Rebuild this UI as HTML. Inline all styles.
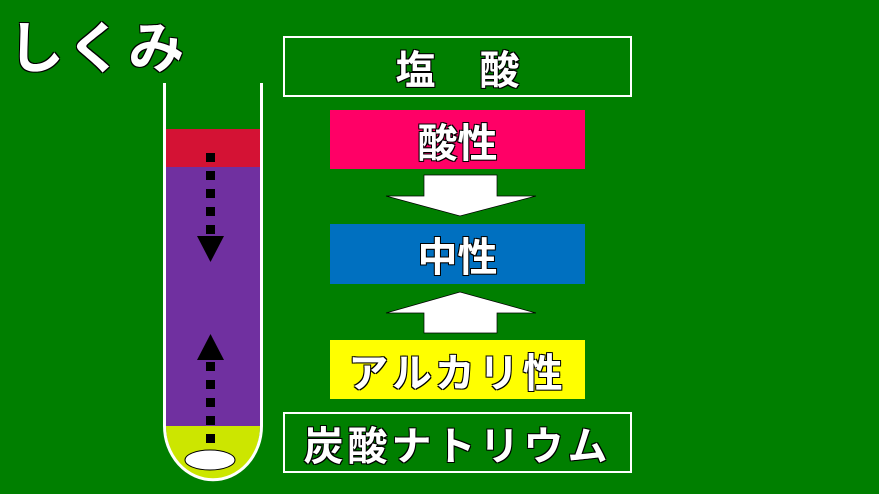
<!DOCTYPE html><html><head><style>
body{margin:0;width:879px;height:494px;background:#007f00;position:relative;overflow:hidden;font-family:"Liberation Sans","Noto Sans CJK JP",sans-serif;font-weight:bold}
.a{position:absolute;display:flex;align-items:center;justify-content:center;color:#fff;font-size:40px;text-shadow:-1px -1px 0 #000,1px -1px 0 #000,-1px 1px 0 #000,1px 1px 0 #000}
</style></head><body>
<div class="a" style="left:8px;top:4px;font-size:56px;letter-spacing:3px;">しくみ</div>
<div class="a" style="left:283px;top:36px;width:345px;height:57px;border:2px solid #fff;letter-spacing:44px;padding-left:44px;box-sizing:content-box;width:301px;">塩酸</div>
<div class="a" style="left:330px;top:110px;width:255px;height:59px;background:#ff0066;">酸性</div>
<div class="a" style="left:330px;top:224px;width:255px;height:60px;background:#0070c0;">中性</div>
<div class="a" style="left:330px;top:340px;width:255px;height:59px;background:#ffff00;letter-spacing:4px;">アルカリ性</div>
<div class="a" style="left:283px;top:412px;width:345px;height:57px;border:2px solid #fff;letter-spacing:4px;">炭酸ナトリウム</div>
<svg width="879" height="494" style="position:absolute;left:0;top:0">
<polygon points="424,175 497,175 497,196 536,196 460,216 386,196 424,196" fill="#fff" stroke="#000" stroke-width="0.7"/>
<polygon points="424,333 497,333 497,313 536,313 460,292 386,313 424,313" fill="#fff" stroke="#000" stroke-width="0.7"/>
<clipPath id="c"><path d="M166,80 V426 A44,50 0 0 0 260,426 V80 Z"/></clipPath>
<g clip-path="url(#c)">
<rect x="166" y="129" width="94" height="38" fill="#d41234"/>
<rect x="166" y="167" width="94" height="260" fill="#7030a0"/>
<rect x="166" y="426" width="94" height="60" fill="#cce600"/>
</g>
<path d="M164.5,83 V426 A46,51 0 0 0 261.5,426 V83" fill="none" stroke="#fff" stroke-width="3"/>
<ellipse cx="210" cy="460" rx="25" ry="10" fill="#fff" stroke="#000" stroke-width="1"/>
<g fill="#000">
<rect x="206" y="153" width="9" height="9"/><rect x="206" y="171" width="9" height="9"/><rect x="206" y="189" width="9" height="9"/><rect x="206" y="207" width="9" height="9"/><rect x="206" y="225" width="9" height="9"/>
<polygon points="197,236 224,236 210.5,262"/>
<polygon points="197,360 224,360 210.5,334"/>
<rect x="206" y="362" width="9" height="9"/><rect x="206" y="380" width="9" height="9"/><rect x="206" y="398" width="9" height="9"/><rect x="206" y="416" width="9" height="9"/><rect x="206" y="434" width="9" height="9"/>
</g>
</svg>
</body></html>
